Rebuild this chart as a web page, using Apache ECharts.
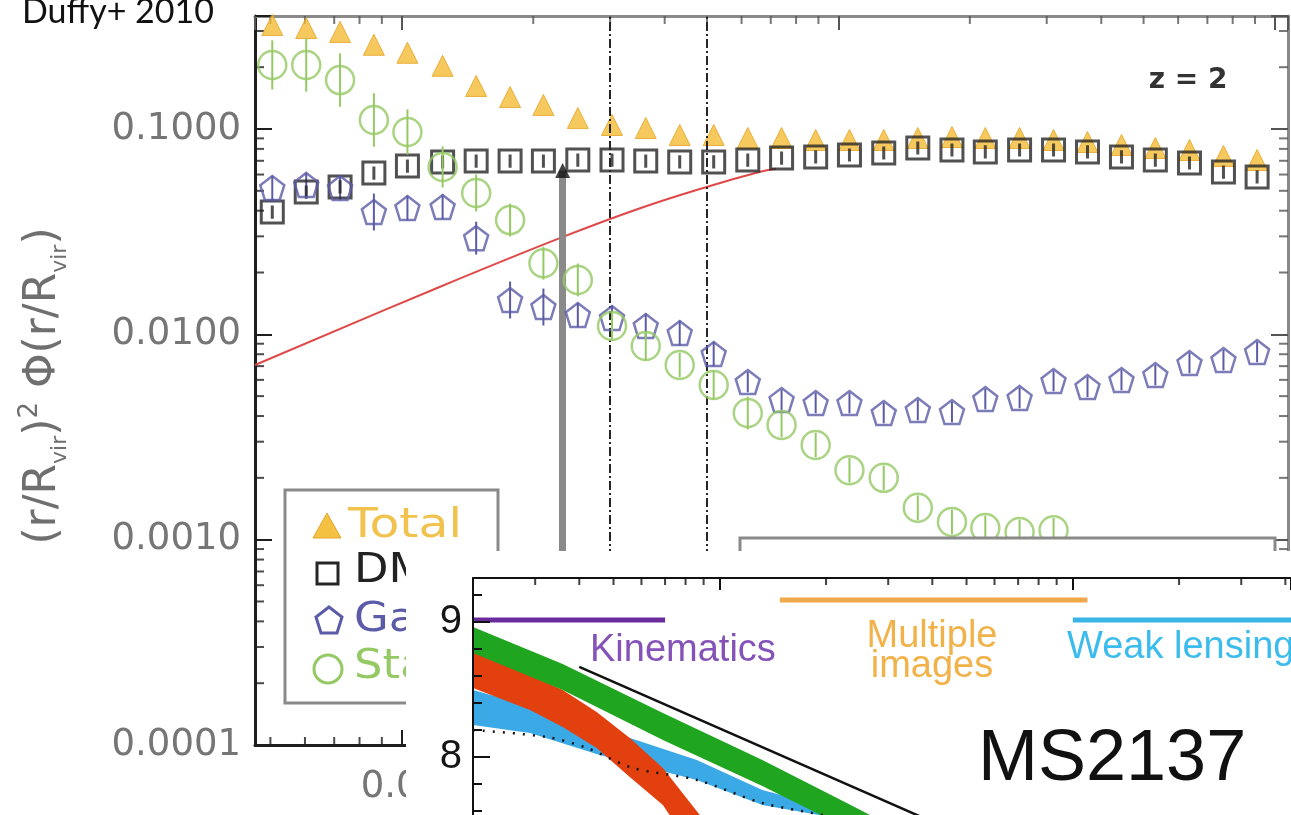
<!DOCTYPE html>
<html>
<head>
<meta charset="utf-8">
<script src="https://cdn.jsdelivr.net/npm/echarts@6/dist/echarts.min.js"></script>
<style>
  html, body { margin: 0; padding: 0; background: #fff; }
  #c { width: 1291px; height: 815px; }
</style>
</head>
<body>
<div id="c"></div>
<script>
// ---- Main panel: mass-weighted profiles at z = 2 (r / R_vir) ----
const radius = [0.00505, 0.00604, 0.00722, 0.00863, 0.0103, 0.0124, 0.0148, 0.0177, 0.0211, 0.0253,
                0.0303, 0.0362, 0.0433, 0.0518, 0.0620, 0.0741, 0.0887, 0.106, 0.127, 0.152,
                0.182, 0.217, 0.260, 0.311, 0.372, 0.445, 0.532, 0.637, 0.762, 0.910];
const total = [0.321, 0.310, 0.297, 0.257, 0.235, 0.203, 0.162, 0.143, 0.131, 0.113,
               0.1046, 0.1011, 0.0935, 0.0935, 0.0904, 0.0904, 0.0884, 0.0884, 0.0884, 0.0904,
               0.0914, 0.0904, 0.0904, 0.0884, 0.0864, 0.0836, 0.0808, 0.0790, 0.0739, 0.0706];
const darkMatter = [0.0394, 0.0493, 0.0522, 0.0610, 0.0660, 0.0691, 0.0698, 0.0698, 0.0698, 0.0706,
                    0.0706, 0.0698, 0.0691, 0.0691, 0.0706, 0.0722, 0.0731, 0.0747, 0.0764, 0.0808,
                    0.0790, 0.0773, 0.0790, 0.0790, 0.0773, 0.0731, 0.0706, 0.0683, 0.0617, 0.0584];
const gas = [0.0516, 0.0534, 0.0516, 0.0394, 0.0412, 0.0417, 0.0294, 0.01469, 0.01358, 0.01242,
             0.0120, 0.01098, 0.01015, 0.00802, 0.00586, 0.00479, 0.00463, 0.00463, 0.00414, 0.00428,
             0.00418, 0.00484, 0.00490, 0.00592, 0.00554, 0.00599, 0.00633, 0.00725, 0.00749, 0.00820];
const stars = [0.205, 0.205, 0.173, 0.1106, 0.0967, 0.0653, 0.0488, 0.0360, 0.0222, 0.0184,
               0.01098, 0.00877, 0.00709, 0.00566, 0.00414, 0.00362, 0.00289, 0.00218, 0.00200, 0.00143,
               0.00122, 0.00114, 0.00109, 0.00111];
// half-length of error bars, in dex
const gasErr = [0.06, 0.06, 0.06, 0.09, 0.06, 0.06, 0.08, 0.09, 0.09, 0.06,
                0.06, 0.06, 0.06, 0.06, 0.05, 0.05, 0.05, 0.05, 0.05, 0.05,
                0.05, 0.05, 0.05, 0.05, 0.05, 0.05, 0.05, 0.05, 0.05, 0.05];
const starsErr = [0.12, 0.13, 0.13, 0.13, 0.11, 0.10, 0.09, 0.08, 0.08, 0.08,
                  0.07, 0.07, 0.06, 0.07, 0.08, 0.06, 0.06, 0.06, 0.06, 0.06,
                  0.06, 0.06, 0.06, 0.06];
// model curve
const modelR = [0.00461, 0.0122, 0.0230, 0.0350, 0.0499, 0.0659, 0.072];
const modelV = [0.00709, 0.0170, 0.0294, 0.0410, 0.0522, 0.0617, 0.0640];
// reference radii
const softeningR = 0.02335;
const arrowTip = 0.0627;
const apertureR = [0.02555, 0.0501];
// axis ranges and minor tick positions
const xRange = [0.00461, 1.071];
const yRange = [0.0001, 0.355];
const xMinorTicks = [0.005, 0.006, 0.007, 0.008, 0.009, 0.02, 0.03, 0.04, 0.05, 0.06, 0.07, 0.08, 0.09,
                     0.2, 0.3, 0.4, 0.5, 0.6, 0.7, 0.8, 0.9];
const yMinorTicks = [0.0002, 0.0003, 0.0004, 0.0005, 0.0006, 0.0007, 0.0008, 0.0009,
                     0.002, 0.003, 0.004, 0.005, 0.006, 0.007, 0.008, 0.009,
                     0.02, 0.03, 0.04, 0.05, 0.06, 0.07, 0.08, 0.09, 0.2, 0.3];

// ---- Inset: MS2137 density profile (log r, log rho) ----
const insetXRange = [2, 415];
const insetYRange = [7, 9.326];
const insetMinorX = [3, 4, 5, 6, 7, 8, 9, 20, 30, 40, 50, 60, 70, 80, 90, 200, 300, 400];
const greenX  = [2.0, 3.59, 6.90, 13.2, 22.9, 28.4];
const greenHi = [8.963, 8.689, 8.326, 7.978, 7.659, 7.533];
const greenLo = [8.770, 8.496, 8.126, 7.785, 7.474, 7.348];
const redX  = [2.0, 2.90, 3.59, 4.48, 5.56, 6.90, 8.78, 10.0];
const redHi = [8.778, 8.607, 8.496, 8.333, 8.141, 7.919, 7.570, 7.348];
const redLo = [8.511, 8.348, 8.222, 8.067, 7.852, 7.644, 7.237, 7.052];
const blueX  = [2.0, 2.90, 4.57, 8.61, 13.2, 20.5, 26.6, 32.4];
const blueHi = [8.496, 8.378, 8.215, 7.978, 7.756, 7.622, 7.519, 7.422];
const blueLo = [8.237, 8.178, 8.015, 7.830, 7.644, 7.556, 7.444, 7.348];
const dottedX = [2.0, 3.24, 4.20, 5.67, 8.61, 13.2, 20.5, 32.4];
const dottedY = [8.2, 8.148, 8.067, 7.919, 7.830, 7.659, 7.556, 7.385];
const slopeX = [4.0, 42];
const slopeY = [8.667, 7.496];
const kinematicsX = [2, 7],       kinematicsY = 9.015;
const multipleX = [14.8, 110],    multipleY = 9.163;
const weakLensX = [100, 415],     weakLensY = 9.015;

const isPow10 = v => Math.abs(Math.log10(v) - Math.round(Math.log10(v))) < 1e-6;
const zip = (xs, ys) => xs.map((x, i) => [x, ys[i]]);

const SQUARE = 'path://M-10,-10L10,-10L10,10L-10,10Z M0,-6L0,6';
const PENTAGON = 'path://M0,-10L9.51,-3.09L5.88,8.09L-5.88,8.09L-9.51,-3.09Z';

function errorBars(xs, ys, errs, color, z) {
  return {
    type: 'custom', xAxisIndex: 0, yAxisIndex: 0, z, silent: true, clip: false,
    data: ys.map((v, i) => [xs[i], v * Math.pow(10, -errs[i]), v * Math.pow(10, errs[i])]),
    encode: { x: 0, y: [1, 2] },
    renderItem(params, api) {
      const lo = api.coord([api.value(0), api.value(1)]);
      const hi = api.coord([api.value(0), api.value(2)]);
      return { type: 'line', shape: { x1: lo[0], y1: lo[1], x2: hi[0], y2: hi[1] },
               style: { stroke: color, lineWidth: 2 } };
    }
  };
}

function band(xs, hi, lo, color, z) {
  return {
    type: 'custom', xAxisIndex: 2, yAxisIndex: 2, z, silent: true, clip: true,
    data: [[xs[0], hi[0]]],
    renderItem(params, api) {
      const pts = xs.map((x, i) => api.coord([x, hi[i]]));
      for (let i = xs.length - 1; i >= 0; i--) pts.push(api.coord([xs[i], lo[i]]));
      return { type: 'polygon', shape: { points: pts }, style: { fill: color } };
    }
  };
}

function tickMarks(xIdx, yIdx, pts, size, offset, color, z) {
  return {
    type: 'scatter', xAxisIndex: xIdx, yAxisIndex: yIdx, silent: true, clip: false, z,
    symbol: 'rect', symbolSize: size, symbolOffset: offset,
    itemStyle: { color }, data: pts
  };
}

const labelFont = { fontFamily: 'DejaVu Sans', fontSize: 37, color: '#767676' };

const option = {
  animation: false,
  backgroundColor: '#ffffff',
  grid: [
    { left: 255, top: 16, right: 3, bottom: 70, outerBoundsMode: 'none' },
    { left: 473, top: 578, right: 0, bottom: -77, outerBoundsMode: 'none' }
  ],
  xAxis: [
    { type: 'log', gridIndex: 0, position: 'bottom', min: xRange[0], max: xRange[1], z: 1,
      axisLine: { lineStyle: { color: '#1e1e1e', width: 3 } },
      axisTick: { inside: true, length: 15, lineStyle: { color: '#1e1e1e', width: 2 } },
      axisLabel: Object.assign({ margin: 24, formatter: v => isPow10(v) ? (v < 1 ? v.toFixed(2) : v.toFixed(0)) : '' }, labelFont),
      splitLine: { show: false } },
    { type: 'log', gridIndex: 0, position: 'top', min: xRange[0], max: xRange[1], z: 1,
      axisLine: { lineStyle: { color: '#8a8a8a', width: 3 } },
      axisTick: { inside: true, length: 14, lineStyle: { color: '#555', width: 2 } },
      axisLabel: { show: false }, splitLine: { show: false } },
    { type: 'log', gridIndex: 1, position: 'top', min: insetXRange[0], max: insetXRange[1], z: 40,
      axisLine: { lineStyle: { color: '#111', width: 2 } },
      axisTick: { inside: true, length: 12, lineStyle: { color: '#111', width: 2 } },
      axisLabel: { show: false }, splitLine: { show: false } }
  ],
  yAxis: [
    { type: 'log', gridIndex: 0, position: 'left', min: yRange[0], max: yRange[1], z: 1,
      axisLine: { lineStyle: { color: '#1e1e1e', width: 3 } },
      axisTick: { inside: true, length: 17, lineStyle: { color: '#1e1e1e', width: 2 } },
      axisLabel: Object.assign({ margin: 14, formatter: v => isPow10(v) ? v.toFixed(4) : '' }, labelFont),
      splitLine: { show: false } },
    { type: 'log', gridIndex: 0, position: 'right', min: yRange[0], max: yRange[1], z: 1,
      axisLine: { lineStyle: { color: '#8a8a8a', width: 3 } },
      axisTick: { inside: true, length: 17, lineStyle: { color: '#555', width: 2 } },
      axisLabel: { show: false }, splitLine: { show: false } },
    { type: 'value', gridIndex: 1, position: 'left', min: insetYRange[0], max: insetYRange[1], interval: 1, z: 40,
      axisLine: { lineStyle: { color: '#111', width: 2 } },
      axisTick: { inside: true, length: 17, lineStyle: { color: '#111', width: 2 } },
      minorTick: { show: true, splitNumber: 5, length: 9, lineStyle: { color: '#111', width: 2 } },
      axisLabel: { margin: 11, fontFamily: 'Liberation Sans', fontSize: 40, color: '#151515',
                   formatter: v => (Math.abs(v - Math.round(v)) < 1e-9 && v > 7.5) ? String(Math.round(v)) : '' },
      splitLine: { show: false } }
  ],
  graphic: [
    { type: 'text', x: 22, y: 12, z: 60,
      style: { text: 'Duffy+ 2010', font: '34px Lato', fill: '#111', textVerticalAlign: 'middle', verticalAlign: 'middle' } },
    { type: 'text', x: 44, y: 386, rotation: Math.PI / 2, z: 5,
      style: {
        text: '(r/R{s|vir}){p|2} Φ(r/R{s|vir})',
        font: '44px "DejaVu Sans"', fill: '#6f6f6f', align: 'center', verticalAlign: 'middle',
        textAlign: 'center', textVerticalAlign: 'middle', lineHeight: 54,
        rich: {
          s: { fontSize: 22, fontFamily: 'DejaVu Sans', fill: '#6f6f6f', color: '#6f6f6f', verticalAlign: 'bottom', lineHeight: 54 },
          p: { fontSize: 26, fontFamily: 'DejaVu Sans', fill: '#6f6f6f', color: '#6f6f6f', verticalAlign: 'top', lineHeight: 54 }
        }
      } },
    { type: 'text', x: 1188, y: 81, z: 5,
      style: { text: 'z = 2', font: 'bold 28px "DejaVu Sans"', fill: '#333', textAlign: 'center', textVerticalAlign: 'middle', align: 'center', verticalAlign: 'middle' } },
    // legend box of the main panel
    { type: 'rect', z: 10, shape: { x: 285, y: 490, width: 213, height: 213 },
      style: { fill: '#fff', stroke: '#8a8a8a', lineWidth: 3 } },
    { type: 'polygon', z: 11, shape: { points: [[327, 513], [341, 538], [313, 538]] },
      style: { fill: '#f4c142', stroke: '#e3a62a', lineWidth: 1 } },
    { type: 'rect', z: 11, shape: { x: 317, y: 563, width: 21, height: 21 },
      style: { fill: 'none', stroke: '#262626', lineWidth: 3 } },
    { type: 'polygon', z: 11, shape: { points: [[329, 607], [342, 617], [337, 633], [321, 633], [316, 617]] },
      style: { fill: 'none', stroke: '#5b5ba8', lineWidth: 3 } },
    { type: 'circle', z: 11, shape: { cx: 328, cy: 669, r: 14 },
      style: { fill: 'none', stroke: '#95c964', lineWidth: 3 } },
    { type: 'text', x: 348, y: 527, z: 11, scaleX: 1.22,
      style: { text: 'Total', font: '40px "DejaVu Sans"', fill: '#f2c24e', textVerticalAlign: 'middle', verticalAlign: 'middle' } },
    { type: 'text', x: 354, y: 572, z: 11, scaleX: 1.12,
      style: { text: 'DM', font: '40px "DejaVu Sans"', fill: '#222', textVerticalAlign: 'middle', verticalAlign: 'middle' } },
    { type: 'text', x: 354, y: 621, z: 11, scaleX: 1.12,
      style: { text: 'Gas', font: '40px "DejaVu Sans"', fill: '#5b5ba8', textVerticalAlign: 'middle', verticalAlign: 'middle' } },
    { type: 'text', x: 354, y: 668, z: 11, scaleX: 1.12,
      style: { text: 'Stars', font: '40px "DejaVu Sans"', fill: '#95c964', textVerticalAlign: 'middle', verticalAlign: 'middle' } },
    // second key box (lower right of the main panel)
    { type: 'rect', z: 10, shape: { x: 740, y: 538, width: 535, height: 200 },
      style: { fill: '#fff', stroke: '#8a8a8a', lineWidth: 3 } },
    // inset panel background
    { type: 'rect', z: 20, shape: { x: 406, y: 551, width: 890, height: 270 },
      style: { fill: '#ffffff' } },
    { type: 'text', x: 590, y: 651, z: 45,
      style: { text: 'Kinematics', font: '38px "Liberation Sans"', fill: '#8552b8', textVerticalAlign: 'middle', verticalAlign: 'middle' } },
    { type: 'text', x: 932, y: 637, z: 45,
      style: { text: 'Multiple', font: '38px "Liberation Sans"', fill: '#f2b24a', textAlign: 'center', align: 'center', textVerticalAlign: 'middle', verticalAlign: 'middle' } },
    { type: 'text', x: 932, y: 667, z: 45,
      style: { text: 'images', font: '38px "Liberation Sans"', fill: '#f2b24a', textAlign: 'center', align: 'center', textVerticalAlign: 'middle', verticalAlign: 'middle' } },
    { type: 'text', x: 1067, y: 648, z: 45,
      style: { text: 'Weak lensing', font: '38px "Liberation Sans"', fill: '#3cbcec', textVerticalAlign: 'middle', verticalAlign: 'middle' } },
    { type: 'text', x: 978, y: 760, z: 45,
      style: { text: 'MS2137', font: '72px "Liberation Sans"', fill: '#111', textVerticalAlign: 'middle', verticalAlign: 'middle' } }
  ],
  series: [
    // model curve with the reference radii
    { type: 'line', xAxisIndex: 0, yAxisIndex: 0, z: 3, smooth: 0.4, symbol: 'none', silent: true,
      data: zip(modelR, modelV), lineStyle: { color: '#e04848', width: 2 },
      markLine: {
        silent: true, symbol: 'none', label: { show: false },
        data: [
          { xAxis: apertureR[0], lineStyle: { color: '#262626', width: 2, type: [9, 3, 2, 3] } },
          { xAxis: apertureR[1], lineStyle: { color: '#262626', width: 2, type: [9, 3, 2, 3] } },
          [ { coord: [softeningR, arrowTip], lineStyle: { color: '#8a8a8a', width: 7, type: 'solid' } },
            { coord: [softeningR, yRange[0]] } ]
        ]
      } },
    { type: 'scatter', xAxisIndex: 0, yAxisIndex: 0, z: 4, silent: true,
      symbol: 'triangle', symbolSize: 21, data: zip(radius, total),
      itemStyle: { color: '#f4bb36', borderColor: '#e5a21f', borderWidth: 1 } },
    { type: 'scatter', xAxisIndex: 0, yAxisIndex: 0, z: 5, silent: true,
      symbol: SQUARE, symbolSize: 22, data: zip(radius, darkMatter),
      itemStyle: { color: 'rgba(255,255,255,0)', borderColor: '#262626', borderWidth: 3 } },
    errorBars(radius, gas, gasErr, '#5b5ba8', 5),
    { type: 'scatter', xAxisIndex: 0, yAxisIndex: 0, z: 5, silent: true,
      symbol: PENTAGON, symbolSize: 24, data: zip(radius, gas),
      itemStyle: { color: 'rgba(255,255,255,0)', borderColor: '#5b5ba8', borderWidth: 2.5 } },
    errorBars(radius, stars, starsErr, '#95c964', 6),
    { type: 'scatter', xAxisIndex: 0, yAxisIndex: 0, z: 6, silent: true,
      symbol: 'circle', symbolSize: 28, data: zip(radius, stars),
      itemStyle: { color: 'rgba(255,255,255,0)', borderColor: '#95c964', borderWidth: 2.5 } },
    { type: 'scatter', xAxisIndex: 0, yAxisIndex: 0, z: 7, silent: true,
      symbol: 'triangle', symbolSize: 15, data: [[softeningR, arrowTip]], itemStyle: { color: '#111' } },
    // minor ticks of the main frame
    tickMarks(0, 0, yMinorTicks.map(v => [xRange[0], v]), [9, 2], [4.5, 0], '#1e1e1e', 1),
    tickMarks(0, 0, yMinorTicks.map(v => [xRange[1], v]), [9, 2], [-4.5, 0], '#555', 1),
    tickMarks(0, 0, xMinorTicks.map(v => [v, yRange[1]]), [2, 8], [0, 4], '#555', 1),
    tickMarks(0, 0, xMinorTicks.map(v => [v, yRange[0]]), [2, 8], [0, -4], '#1e1e1e', 1),

    // inset
    band(blueX, blueHi, blueLo, '#3aa9e6', 30),
    band(redX, redHi, redLo, '#e2400f', 31),
    band(greenX, greenHi, greenLo, '#1fa51f', 32),
    { type: 'line', xAxisIndex: 2, yAxisIndex: 2, z: 33, symbol: 'none', silent: true, smooth: 0.3,
      data: zip(dottedX, dottedY), lineStyle: { color: '#111', width: 2.5, type: [2, 8] } },
    { type: 'line', xAxisIndex: 2, yAxisIndex: 2, z: 33, symbol: 'none', silent: true,
      data: zip(slopeX, slopeY), lineStyle: { color: '#111', width: 2.5 } },
    { type: 'line', xAxisIndex: 2, yAxisIndex: 2, z: 33, symbol: 'none', silent: true,
      data: kinematicsX.map(x => [x, kinematicsY]), lineStyle: { color: '#6a2c9c', width: 5 } },
    { type: 'line', xAxisIndex: 2, yAxisIndex: 2, z: 33, symbol: 'none', silent: true,
      data: multipleX.map(x => [x, multipleY]), lineStyle: { color: '#f0a848', width: 5 } },
    { type: 'line', xAxisIndex: 2, yAxisIndex: 2, z: 33, symbol: 'none', silent: true,
      data: weakLensX.map(x => [x, weakLensY]), lineStyle: { color: '#38b4e6', width: 5 } },
    tickMarks(2, 2, insetMinorX.map(v => [v, insetYRange[1]]), [2, 7], [0, 3.5], '#111', 41)
  ]
};

const chart = echarts.init(document.getElementById('c'));
chart.setOption(option);
</script>
</body>
</html>
